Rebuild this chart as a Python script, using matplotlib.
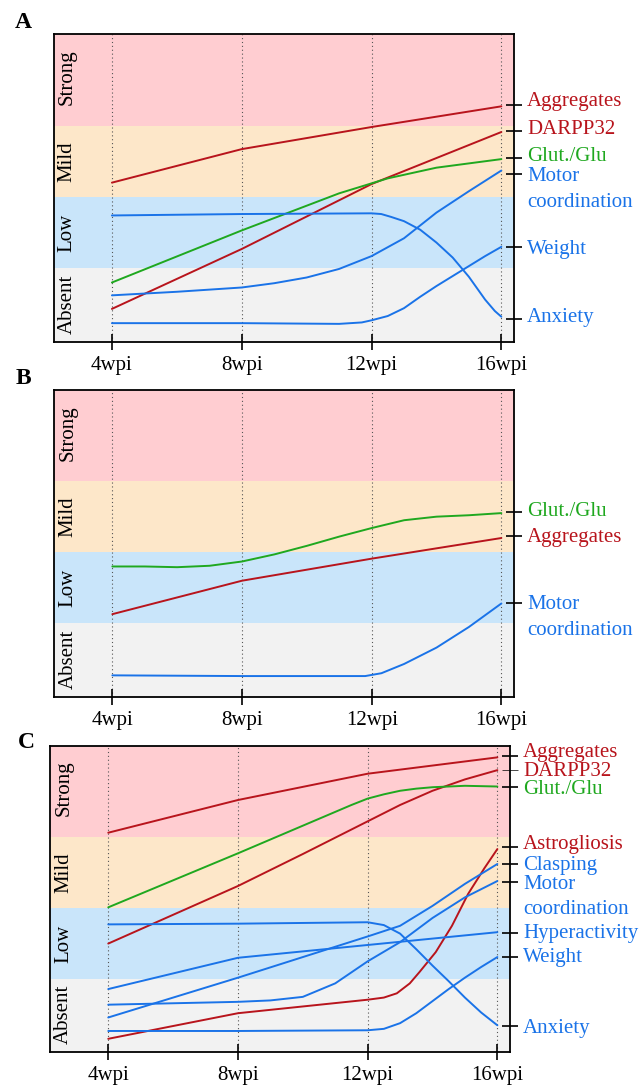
import matplotlib
matplotlib.use('Agg')
from matplotlib import pyplot as plt
from matplotlib import transforms

plt.rcParams['font.family'] = ['Liberation Serif', 'DejaVu Serif']

RED = '#b8141c'
GREEN = '#1fa81f'
BLUE = '#1a73e8'

# x axis
WPI = [4, 8, 12, 16]
WPI_LABELS = ['4wpi', '8wpi', '12wpi', '16wpi']

# severity bands (bottom -> top)
LEVELS = ['Absent', 'Low', 'Mild', 'Strong']
LEVEL_EDGES = [-1, 1, 2, 3, 5]
LEVEL_TEXT_Y = [0.5, 1.5, 2.5, 3.68]
BAND_COLORS = ['#f2f2f2', '#c9e5fa', '#fde7c9', '#ffcdd1']

# ---- panel A : (wpi, level) ----
A_AGGREGATES = [(4, 2.20), (8, 2.67), (12, 2.98), (16, 3.27)]
A_DARPP32 = [(4, 0.43), (8, 1.27), (12, 2.18), (16, 2.91)]
A_GLUT = [(4, 0.80), (8, 1.53), (11, 2.05), (12, 2.19), (12.5, 2.26), (14, 2.41), (16, 2.53)]
A_MOTOR = [(4, 0.62), (6, 0.67), (8, 0.73), (9, 0.79), (10, 0.87), (11, 0.99), (12, 1.17),
           (13, 1.42), (14, 1.78), (15, 2.08), (16, 2.37)]
A_WEIGHT = [(4, 0.23), (8, 0.23), (11, 0.22), (11.7, 0.24), (12, 0.27), (12.5, 0.33), (13, 0.44),
            (13.5, 0.60), (14, 0.75), (14.5, 0.89), (15, 1.03), (15.5, 1.17), (16, 1.30)]
A_ANXIETY = [(4, 1.74), (8, 1.76), (12, 1.77), (12.3, 1.76), (12.6, 1.72), (13, 1.66), (13.5, 1.54),
             (14, 1.36), (14.5, 1.15), (15, 0.88), (15.5, 0.56), (15.8, 0.40), (16, 0.32)]
A_NAMES = ['Aggregates', 'DARPP32', 'Glut./Glu', 'Motor', 'Weight', 'Anxiety']
A_TICK_Y = [3.29, 2.93, 2.55, 2.32, 1.30, 0.29]
A_TEXT_Y = [3.27, 2.88, 2.51, 2.22, 1.20, 0.24]

# ---- panel B ----
B_GLUT = [(4, 1.80), (5, 1.80), (6, 1.79), (7, 1.81), (8, 1.87), (9, 1.97), (10, 2.09), (11, 2.22),
          (12, 2.34), (13, 2.45), (14, 2.50), (15, 2.52), (16, 2.55)]
B_AGGREGATES = [(4, 1.13), (8, 1.60), (12, 1.91), (16, 2.20)]
B_MOTOR = [(4, 0.27), (8, 0.26), (11.8, 0.26), (12.3, 0.30), (13, 0.43), (14, 0.66), (15, 0.95),
           (16, 1.28)]
B_NAMES = ['Glut./Glu', 'Aggregates', 'Motor']
B_TICK_Y = [2.56, 2.23, 1.28]
B_TEXT_Y = [2.51, 2.14, 1.20]

# ---- panel C ----
C_AGGREGATES = [(4, 3.06), (8, 3.52), (12, 3.89), (16, 4.12)]
C_DARPP32 = [(4, 1.50), (8, 2.31), (10, 2.76), (12, 3.22), (13, 3.45), (14, 3.65), (15, 3.81), (16, 3.94)]
C_GLUT = [(4, 2.01), (8, 2.77), (11.5, 3.45), (12, 3.54), (12.5, 3.60), (13, 3.65), (13.5, 3.68),
          (14, 3.70), (15, 3.72), (16, 3.71)]
C_ASTRO = [(4, 0.16), (8, 0.52), (12, 0.71), (12.5, 0.74), (12.9, 0.80), (13.3, 0.94), (13.6, 1.10),
           (14.1, 1.38), (14.6, 1.75), (15.1, 2.20), (15.6, 2.56), (16, 2.83)]
C_CLASPING = [(4, 0.46), (8, 1.02), (12, 1.60), (13, 1.75), (14, 2.03), (15, 2.34), (16, 2.62)]
C_MOTOR = [(4, 0.64), (8, 0.68), (9, 0.70), (10, 0.75), (11, 0.94), (12, 1.25), (13, 1.52),
           (14, 1.86), (15, 2.15), (16, 2.38)]
C_HYPER = [(4, 0.86), (8, 1.30), (12, 1.48), (16, 1.66)]
C_WEIGHT = [(4, 0.27), (8, 0.27), (12, 0.28), (12.5, 0.30), (13, 0.38), (13.5, 0.52), (14, 0.69),
            (14.5, 0.86), (15, 1.02), (15.5, 1.17), (16, 1.31)]
C_ANXIETY = [(4, 1.77), (8, 1.78), (12, 1.80), (12.5, 1.76), (13, 1.64), (13.5, 1.42), (14, 1.19),
             (14.5, 0.97), (15, 0.74), (15.5, 0.53), (16, 0.35)]
C_NAMES = ['Aggregates', 'DARPP32', 'Glut./Glu', 'Astrogliosis', 'Clasping', 'Motor',
           'Hyperactivity', 'Weight', 'Anxiety']
C_TICK_Y = [4.14, 3.94, 3.70, 2.86, 2.62, 2.37, 1.65, 1.31, 0.34]
C_TEXT_Y = [4.13, 3.86, 3.60, 2.83, 2.54, 2.27, 1.58, 1.24, 0.24]


def draw_panel(ax, lines, names, tick_y, text_y, letter, letter_xy, thin=()):
    # coloured severity bands
    for i in range(len(LEVELS)):
        ax.axhspan(LEVEL_EDGES[i], LEVEL_EDGES[i + 1], color=BAND_COLORS[i], lw=0, zorder=0)
    for x in WPI:
        ax.axvline(x, color='#555555', lw=0.8, ls=(0, (1, 2.5)), zorder=1)

    blend = transforms.blended_transform_factory(ax.transAxes, ax.transData)
    for name, y in zip(LEVELS, LEVEL_TEXT_Y):
        ax.text(0.03, y, name, rotation=90, ha='center', va='center', fontsize=15, transform=blend)

    colors = []
    for pts, color in lines:
        xs = [p[0] for p in pts]
        ys = [p[1] for p in pts]
        ax.plot(xs, ys, color=color, lw=1.4, zorder=3, solid_capstyle='round',
                solid_joinstyle='round')
        colors.append(color)

    for name, y, color in zip(names, text_y, colors):
        ax.text(1.028, y, name, color=color, fontsize=15, ha='left', va='baseline',
                transform=blend, clip_on=False)
        if name == 'Motor':
            ax.text(1.028, y - 0.36, 'coordination', color=color, fontsize=15,
                    ha='left', va='baseline', transform=blend, clip_on=False)

    ax.set_xlim(2.2, 16.39)
    ax.set_ylim(-0.03, 4.28)
    ax.set_xticks(WPI)
    ax.set_xticklabels(WPI_LABELS)
    ax.set_yticks(tick_y)
    ax.tick_params(axis='x', direction='inout', length=12, width=1.2, labelsize=15, pad=4)
    ax.tick_params(axis='y', left=False, right=True, labelleft=False, labelright=False,
                   direction='inout', length=11.5, width=1.2)
    for i in thin:
        ax.yaxis.get_major_ticks()[i].tick2line.set_markeredgewidth(0.5)
    for sp in ax.spines.values():
        sp.set_linewidth(1.3)
        sp.set_zorder(5)

    fig.text(letter_xy[0] / 641, 1 - letter_xy[1] / 1088, letter, fontsize=17,
             fontweight='bold', ha='center', va='center')


fig = plt.figure(figsize=(6.41, 10.88), dpi=100)

ax_a = fig.add_axes([53.5 / 641, 1 - 341.7 / 1088, 460.5 / 641, 307.4 / 1088])
ax_b = fig.add_axes([54 / 641, 1 - 696.7 / 1088, 460 / 641, 306.7 / 1088])
ax_c = fig.add_axes([49.9 / 641, 1 - 1052.3 / 1088, 460.1 / 641, 306.3 / 1088])

draw_panel(ax_a, [(A_AGGREGATES, RED), (A_DARPP32, RED), (A_GLUT, GREEN),
                  (A_MOTOR, BLUE), (A_WEIGHT, BLUE), (A_ANXIETY, BLUE)],
           A_NAMES, A_TICK_Y, A_TEXT_Y, 'A', (22.8, 22))

draw_panel(ax_b, [(B_GLUT, GREEN), (B_AGGREGATES, RED), (B_MOTOR, BLUE)],
           B_NAMES, B_TICK_Y, B_TEXT_Y, 'B', (23.7, 378))

draw_panel(ax_c, [(C_AGGREGATES, RED), (C_DARPP32, RED), (C_GLUT, GREEN), (C_ASTRO, RED),
                  (C_CLASPING, BLUE), (C_MOTOR, BLUE), (C_HYPER, BLUE), (C_WEIGHT, BLUE),
                  (C_ANXIETY, BLUE)],
           C_NAMES, C_TICK_Y, C_TEXT_Y, 'C', (26.6, 743), thin=(1,))

fig.savefig('out.png', dpi=100)
